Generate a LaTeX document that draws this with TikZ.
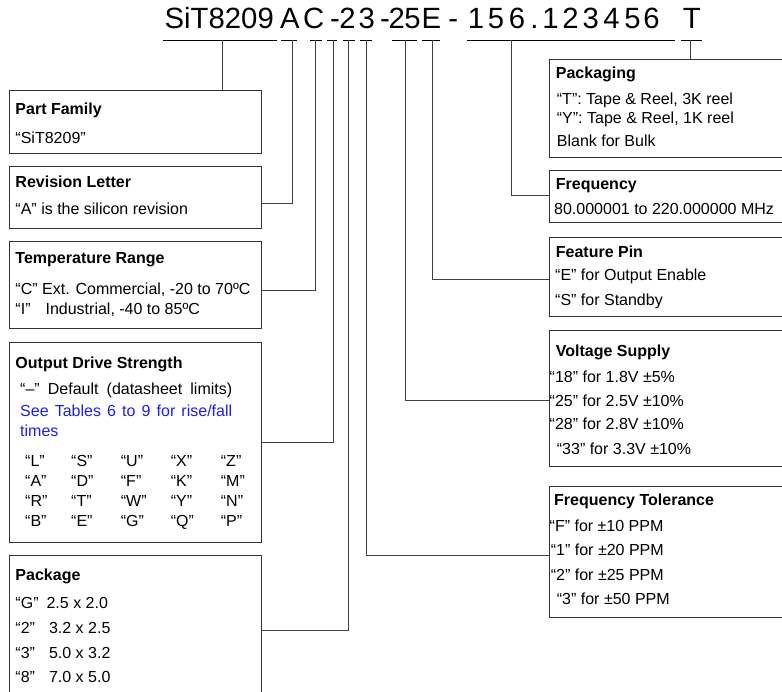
\documentclass[tikz,border=0pt]{standalone}
\usepackage{fontspec}
\setmainfont{Liberation Sans}
\definecolor{lnk}{RGB}{30,30,235}
\begin{document}
\begin{tikzpicture}[x=1pt,y=-1pt,
  box/.style={draw=black!80, line width=0.9pt, anchor=north west, inner sep=0, outer sep=0},
  conn/.style={draw=black!75, line width=0.8pt},
  ul/.style={draw=black, line width=0.8pt},
  txt/.style={anchor=base west, inner sep=0, font=\fontsize{16}{19}\selectfont},
  hd/.style={anchor=base west, inner sep=0, font=\fontsize{16}{19}\selectfont\bfseries},
  ttl/.style={anchor=base, inner sep=0, font=\fontsize{29.3}{33}\selectfont}]
\useasboundingbox (0,0) rectangle (782,692);
\clip (0,0) rectangle (782,692);

% title
\node[ttl, anchor=base west] (t0) at (164.5,28.4) {SiT8209};
\foreach \c/\x [count=\i] in {A/290, C/313.7, -/335, 2/347.5, 3/366.7, -/385, 2/396.7, 5/412.5, E/431.3, -/453.3,
  1/476, 5/496, 6/517, ./534.5, 1/550.5, 2/570.5, 3/590.8, 4/611.5, 5/632.5, 6/651.5, T/691.7}
  \node[ttl] (t\i) at (\x,28.4) {\c};

% underlines
\foreach \a/\b in {162.7/276.7, 281/296.7, 310/321.7, 326.7/336.7, 342.5/355, 360/371.7,
  391.7/416.7, 421.7/440, 466.7/675, 680.7/701.7}
  \draw[ul] (\a,40.3) -- (\b,40.3);

% boxes
\node[box, minimum width=251.5, minimum height=62.3] (pf) at (9.5,90.7) {};
\node[box, minimum width=251.5, minimum height=62] (rev) at (9.5,166) {};
\node[box, minimum width=251.5, minimum height=86.3] (temp) at (9.5,241.7) {};
\node[box, minimum width=251.5, minimum height=200.4] (ods) at (9.5,342.3) {};
\node[box, minimum width=251.5, minimum height=150] (pkg) at (9.5,555.7) {};
\node[box, minimum width=250, minimum height=98.4] (pack) at (549,59.3) {};
\node[box, minimum width=250, minimum height=52.7] (freq) at (549,170) {};
\node[box, minimum width=250, minimum height=79.4] (feat) at (549,237.3) {};
\node[box, minimum width=250, minimum height=136.7] (volt) at (549,330) {};
\node[box, minimum width=250, minimum height=130.6] (ftol) at (549,486.7) {};

% connector start points on the underlines
\coordinate (uPF) at (222.7,40.3);
\coordinate (uA) at (292.5,40.3);
\coordinate (uC) at (315,40.3);
\coordinate (uD) at (333,40.3);
\coordinate (uP) at (348.7,40.3);
\coordinate (uFT) at (366.5,40.3);
\coordinate (uV) at (405,40.3);
\coordinate (uE) at (432,40.3);
\coordinate (uF) at (511.7,40.3);
\coordinate (uT) at (690.7,40.3);
% levels
\coordinate (lA) at (0,203);
\coordinate (lC) at (0,290.7);
\coordinate (lD) at (0,442.7);
\coordinate (lP) at (0,630.7);
\coordinate (lFT) at (0,555.7);
\coordinate (lV) at (0,400);
\coordinate (lE) at (0,279);
\coordinate (lF) at (0,195);

\draw[conn] (uPF) -- (pf.north -| uPF);
\draw[conn] (uA) |- (rev.east |- lA);
\draw[conn] (uC) |- (temp.east |- lC);
\draw[conn] (uD) |- (ods.east |- lD);
\draw[conn] (uP) |- (pkg.east |- lP);
\draw[conn] (uFT) |- (ftol.west |- lFT);
\draw[conn] (uV) |- (volt.west |- lV);
\draw[conn] (uE) |- (feat.west |- lE);
\draw[conn] (uF) |- (freq.west |- lF);
\draw[conn] (uT) -- (pack.north -| uT);

% left texts
\node[hd] (pfh) at (15.3,114.7) {Part Family};
\node[txt] (pf1) at (15.3,144) {“SiT8209”};
\node[hd] (revh) at (15.3,187.7) {Revision Letter};
\node[txt] (rev1) at (15.3,215) {“A” is the silicon revision};
\node[hd] (temph) at (15.3,263.3) {Temperature Range};
\node[txt] (temp1) at (15.3,295) {“C” Ext. Commercial, -20 to 70ºC};
\node[txt] (temp2) at (15.3,315) {“I”\hspace{15pt}Industrial, -40 to 85ºC};
\node[hd] (odsh) at (15.3,368.3) {Output Drive Strength};
\node[txt] (ods1) at (20,394.3) {\makebox[212pt][s]{“–” Default (datasheet limits)}};
\node[txt, text=lnk] (ods2) at (20,416.7) {\makebox[212pt][s]{See Tables 6 to 9 for rise/fall}};
\node[txt, text=lnk] (ods3) at (20,436.7) {times};
\foreach \l/\x/\y [count=\k] in {
  L/25/466.7, S/71/466.7, U/120.7/466.7, X/170.7/466.7, Z/220.7/466.7,
  A/25/486.7, D/71/486.7, F/120.7/486.7, K/170.7/486.7, M/220.7/486.7,
  R/25/506.7, T/71/506.7, W/120.7/506.7, Y/170.7/506.7, N/220.7/506.7,
  B/25/526.7, E/71/526.7, G/120.7/526.7, Q/170.7/526.7, P/220.7/526.7}
  \node[txt] (g\k) at (\x,\y) {“\l”};
\node[hd] (pkgh) at (15.3,580.7) {Package};
\node[txt] (pkg1) at (15.3,608.3) {“G”\hspace{8pt}2.5 x 2.0};
\node[txt] (pkg2) at (15.3,633.3) {“2”\hspace{14pt}3.2 x 2.5};
\node[txt] (pkg3) at (15.3,658.3) {“3”\hspace{14pt}5.0 x 3.2};
\node[txt] (pkg4) at (15.3,682.7) {“8”\hspace{14pt}7.0 x 5.0};

% right texts
\node[hd] (packh) at (555.7,78.3) {Packaging};
\node[txt] (pack1) at (556.7,104.3) {“T”: Tape \& Reel, 3K reel};
\node[txt] (pack2) at (556.7,123.3) {“Y”: Tape \& Reel, 1K reel};
\node[txt] (pack3) at (556.7,146.7) {Blank for Bulk};
\node[hd] (freqh) at (555.7,189.3) {Frequency};
\node[txt] (freq1) at (554,215) {80.000001 to 220.000000 MHz};
\node[hd] (feath) at (555.7,257.3) {Feature Pin};
\node[txt] (feat1) at (555,280.7) {“E” for Output Enable};
\node[txt] (feat2) at (555,305.7) {“S” for Standby};
\node[hd] (volth) at (555.7,356.7) {Voltage Supply};
\node[txt] (volt1) at (549.5,382.7) {“18” for 1.8V ±5\%};
\node[txt] (volt2) at (549.5,406.7) {“25” for 2.5V ±10\%};
\node[txt] (volt3) at (549.5,430) {“28” for 2.8V ±10\%};
\node[txt] (volt4) at (556.7,454) {“33” for 3.3V ±10\%};
\node[hd] (ftolh) at (554,505.7) {Frequency Tolerance};
\node[txt] (ftol1) at (549.5,531.7) {“F” for ±10 PPM};
\node[txt] (ftol2) at (550.7,555.7) {“1” for ±20 PPM};
\node[txt] (ftol3) at (550.7,580) {“2” for ±25 PPM};
\node[txt] (ftol4) at (556.7,604) {“3” for ±50 PPM};
\end{tikzpicture}
\end{document}
